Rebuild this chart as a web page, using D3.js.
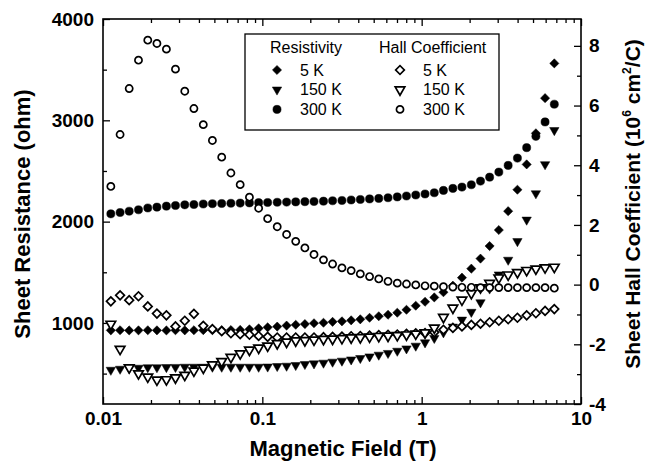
<!DOCTYPE html>
<html>
<head>
<meta charset="utf-8">
<script src="https://cdn.jsdelivr.net/npm/d3@7"></script>
<style>
body { margin: 0; background: #fff; }
svg { font-family: "Liberation Sans", Arial, sans-serif; }
</style>
</head>
<body>
<div id="chart"></div>
<script>
// magnetic field (T), same sweep for every curve
const field = [0.0112, 0.0128, 0.0146, 0.0167, 0.0191, 0.0218, 0.0250, 0.0285, 0.0326, 0.0372,
    0.0426, 0.0486, 0.0556, 0.0635, 0.0726, 0.0830, 0.0948, 0.108, 0.124, 0.142,
    0.162, 0.185, 0.211, 0.242, 0.276, 0.316, 0.361, 0.412, 0.471, 0.538,
    0.615, 0.703, 0.803, 0.918, 1.05, 1.20, 1.37, 1.57, 1.79, 2.05,
    2.34, 2.67, 3.05, 3.49, 3.99, 4.56, 5.21, 5.95, 6.80];

// sheet resistance (ohm)
const rho5K = [927, 928, 926, 927, 928, 927, 926, 928, 927, 928,
    929, 928, 929, 930, 931, 937, 947, 957, 964, 974,
    982, 989, 997, 1002, 1011, 1016, 1026, 1036, 1051, 1066,
    1081, 1101, 1130, 1170, 1209, 1252, 1303, 1368, 1447, 1536,
    1635, 1759, 1917, 2103, 2315, 2565, 2872, 3219, 3562];
const rho150K = [536, 546, 551, 556, 561, 561, 563, 564, 566, 566,
    566, 566, 566, 566, 566, 566, 566, 568, 573, 576,
    583, 593, 599, 606, 616, 626, 638, 652, 668, 685,
    702, 724, 747, 774, 807, 850, 906, 962, 1031, 1108,
    1202, 1338, 1477, 1622, 1806, 2018, 2278, 2565, 2902];
const rho300K = [2077, 2090, 2103, 2117, 2135, 2143, 2153, 2159, 2166, 2169,
    2174, 2177, 2179, 2181, 2183, 2185, 2187, 2189, 2191, 2193,
    2195, 2197, 2199, 2202, 2206, 2209, 2214, 2219, 2224, 2229,
    2236, 2244, 2253, 2263, 2273, 2285, 2308, 2328, 2341, 2364,
    2400, 2439, 2489, 2555, 2627, 2730, 2842, 2984, 3159];

// sheet hall coefficient (10^6 cm^2/C)
const hall5K = [-0.56, -0.36, -0.52, -0.39, -0.73, -0.97, -1.03, -1.40, -1.21, -0.98,
    -1.38, -1.49, -1.56, -1.63, -1.66, -1.68, -1.72, -1.75, -1.77, -1.77,
    -1.77, -1.77, -1.77, -1.76, -1.75, -1.74, -1.73, -1.72, -1.71, -1.69,
    -1.68, -1.67, -1.65, -1.63, -1.62, -1.60, -1.51, -1.45, -1.40, -1.35,
    -1.31, -1.26, -1.21, -1.16, -1.11, -1.03, -0.96, -0.88, -0.82];
const hall150K = [-1.32, -2.16, -2.78, -2.98, -3.09, -3.19, -3.18, -3.12, -3.03, -2.89,
    -2.79, -2.68, -2.57, -2.43, -2.31, -2.19, -2.12, -2.05, -1.97, -1.92,
    -1.88, -1.87, -1.85, -1.83, -1.82, -1.80, -1.78, -1.77, -1.75, -1.73,
    -1.72, -1.70, -1.68, -1.65, -1.61, -1.45, -1.09, -0.78, -0.51, -0.29,
    -0.10, 0.05, 0.23, 0.33, 0.41, 0.48, 0.53, 0.57, 0.59];
const hall300K = [3.29, 5.03, 6.57, 7.52, 8.19, 8.08, 7.89, 7.22, 6.48, 5.90,
    5.36, 4.83, 4.27, 3.74, 3.35, 2.93, 2.56, 2.21, 1.94, 1.68,
    1.45, 1.23, 1.01, 0.83, 0.69, 0.56, 0.47, 0.36, 0.27, 0.19,
    0.11, 0.05, 0.02, -0.01, -0.04, -0.05, -0.07, -0.08, -0.09, -0.09,
    -0.10, -0.10, -0.10, -0.10, -0.10, -0.10, -0.10, -0.10, -0.12];

const temps = ["5 K", "150 K", "300 K"];

const xTicks = [0.01, 0.1, 1, 10];
const xMinor = [0.02, 0.03, 0.04, 0.05, 0.06, 0.07, 0.08, 0.09,
    0.2, 0.3, 0.4, 0.5, 0.6, 0.7, 0.8, 0.9, 2, 3, 4, 5, 6, 7, 8, 9];
const leftTicks = [1000, 2000, 3000, 4000];
const leftMinor = [500, 1500, 2500, 3500];
const rightTicks = [-4, -2, 0, 2, 4, 6, 8];
const rightMinor = [-3, -1, 1, 3, 5, 7];

function draw(){
    const w = 645;
    const h = 462;
    const left = 103, right = 581, top = 19, bottom = 404;

    const svg = d3.select("#chart").append("svg")
        .attr("width", w)
        .attr("height", h);

    const x = d3.scaleLog().domain([0.01, 10]).range([left, right]);
    const yL = d3.scaleLinear().domain([200, 4000]).range([bottom, top]);
    const yR = d3.scaleLinear().domain([-4, 8.9]).range([bottom, top]);

    // ticks, all pointing into the frame
    function ticks(axis, pos, vals, size, labels, pad){
        const g = svg.append("g")
            .attr("transform", pos)
            .call(axis.tickValues(vals).tickSize(-size).tickSizeOuter(0).tickPadding(pad || 8)
                .tickFormat(labels ? (d) => String(d) : () => ""));
        g.select(".domain").remove();
        g.selectAll("line").attr("stroke", "#000").attr("stroke-width", 1.3);
        g.selectAll("text")
            .attr("fill", "#000")
            .attr("font-size", 19)
            .attr("font-weight", "bold")
            .attr("font-family", "Liberation Sans, Arial, sans-serif");
        return g;
    }
    ticks(d3.axisBottom(x), `translate(0,${bottom})`, xTicks, 7, true, 8);
    ticks(d3.axisBottom(x), `translate(0,${bottom})`, xMinor, 4, false);
    ticks(d3.axisTop(x), `translate(0,${top})`, xTicks, 7, false);
    ticks(d3.axisTop(x), `translate(0,${top})`, xMinor, 4, false);
    ticks(d3.axisLeft(yL), `translate(${left},0)`, leftTicks, 7, true, 9);
    ticks(d3.axisLeft(yL), `translate(${left},0)`, leftMinor, 4, false);
    ticks(d3.axisRight(yR), `translate(${right},0)`, rightTicks, 7, true, 8);
    ticks(d3.axisRight(yR), `translate(${right},0)`, rightMinor, 4, false);

    svg.append("rect")
        .attr("x", left).attr("y", top)
        .attr("width", right - left).attr("height", bottom - top)
        .attr("fill", "none")
        .attr("stroke", "#000")
        .attr("stroke-width", 1.6);

    const shapes = {
        diamond: {type: d3.symbolSquare, rot: 45},
        triangle: {type: d3.symbolTriangle, rot: 180},
        circle: {type: d3.symbolCircle, rot: 0}
    };

    const series = [
        {values: rho5K, y: yL, shape: "diamond", filled: true, size: 42},
        {values: rho150K, y: yL, shape: "triangle", filled: true, size: 38},
        {values: rho300K, y: yL, shape: "circle", filled: true, size: 52},
        {values: hall5K, y: yR, shape: "diamond", filled: false, size: 38},
        {values: hall150K, y: yR, shape: "triangle", filled: false, size: 40},
        {values: hall300K, y: yR, shape: "circle", filled: false, size: 40}
    ];

    function styleMark(sel, s){
        sel.attr("d", d3.symbol().type(shapes[s.shape].type).size(s.size)())
            .attr("fill", s.filled ? "#000" : "#fff")
            .attr("stroke", "#000")
            .attr("stroke-width", s.filled ? 0.5 : 1.7);
    }

    series.forEach((s) => {
        svg.append("g").selectAll("path")
            .data(field.map((f, i) => [f, s.values[i]]))
            .enter()
            .append("path")
            .call(styleMark, s)
            .attr("transform", (d) => "translate(" + x(d[0]) + "," + s.y(d[1]) + ") rotate(" + shapes[s.shape].rot + ")");
    });

    // legend
    const lg = svg.append("g")
        .attr("font-size", 16)
        .attr("fill", "#000");
    lg.append("rect")
        .attr("x", 245).attr("y", 34)
        .attr("width", 254).attr("height", 96)
        .attr("fill", "#fff")
        .attr("stroke", "#000")
        .attr("stroke-width", 1.3);
    lg.append("text").attr("x", 270).attr("y", 52.5).text("Resistivity");
    lg.append("text").attr("x", 379).attr("y", 52.5).text("Hall Coefficient");
    series.forEach((s, i) => {
        const row = i % 3;
        const cx = s.filled ? 277 : 400;
        const cy = 70 + row * 19.7;
        lg.append("path")
            .call(styleMark, s)
            .attr("transform", "translate(" + cx + "," + cy + ") rotate(" + shapes[s.shape].rot + ")");
        lg.append("text")
            .attr("x", cx + 23)
            .attr("y", cy)
            .attr("dy", "0.36em")
            .text(temps[row]);
    });

    // axis titles
    svg.append("text")
        .attr("x", (left + right) / 2 + 1)
        .attr("y", 448)
        .attr("dy", "0.35em")
        .attr("text-anchor", "middle")
        .attr("font-size", 22)
        .attr("font-weight", "bold")
        .text("Magnetic Field (T)");

    svg.append("text")
        .attr("transform", "translate(22,214) rotate(-90)")
        .attr("dy", "0.35em")
        .attr("text-anchor", "middle")
        .attr("font-size", 22)
        .attr("font-weight", "bold")
        .text("Sheet Resistance (ohm)");

    // superscript shifts in px so every tspan returns to the same baseline
    const rt = svg.append("text")
        .attr("transform", "translate(633,204) rotate(-90)")
        .attr("y", 7)
        .attr("text-anchor", "middle")
        .attr("font-size", 21)
        .attr("font-weight", "bold");
    rt.append("tspan").text("Sheet Hall Coefficient (10");
    rt.append("tspan").attr("font-size", 12).attr("dy", -9).text("6");
    rt.append("tspan").attr("dy", 9).text(" cm");
    rt.append("tspan").attr("font-size", 12).attr("dy", -9).text("2");
    rt.append("tspan").attr("dy", 9).text("/C)");
}

draw();
</script>
</body>
</html>
